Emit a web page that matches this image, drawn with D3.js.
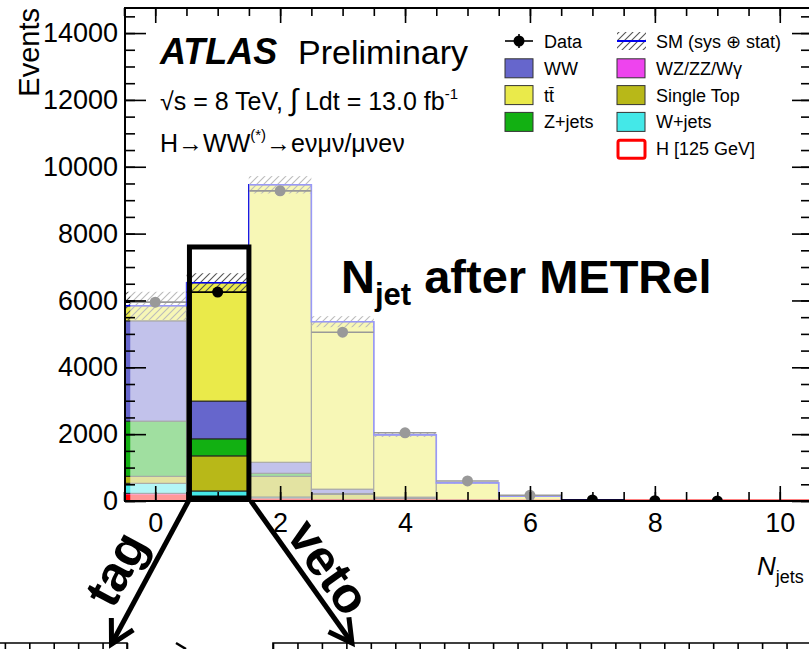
<!DOCTYPE html>
<html>
<head>
<meta charset="utf-8">
<script src="https://cdn.jsdelivr.net/npm/d3@7"></script>
<style>
  body { margin: 0; background: #fff; }
  svg { font-family: "Liberation Sans", Arial, Helvetica, sans-serif; }
  .axis text { font-size: 27px; fill: #000; }
  .axis line { stroke: #000; stroke-width: 1.6; }
  .axis path { display: none; }
</style>
</head>
<body>
<svg width="809" height="649"></svg>
<script>
// jet multiplicity bins and stacked backgrounds (events)
const bins   = [0, 1, 2, 3, 4, 5, 6, 7, 8, 9, 10];
const higgs  = [150, 60, 30, 10, 4, 1, 0.5, 0, 0, 0, 0];
const wzzz   = [80, 60, 30, 15, 5, 2, 1, 0, 0, 0, 0];
const wjets  = [300, 180, 60, 20, 8, 2, 1, 0.5, 0, 0, 0];
const stop   = [210, 1050, 620, 150, 50, 12, 3, 1, 0, 0, 0];
const zjets  = [1650, 510, 90, 30, 10, 3, 1, 0.5, 0, 0, 0];
const ww     = [3000, 1130, 330, 130, 40, 12, 4, 1, 0, 0, 0];
const ttbar  = [450, 3540, 8300, 5010, 1860, 510, 130, 25, 5, 1, 0];
const smUnc  = [420, 285, 260, 165, 60, 25, 10, 3, 1, 0.5, 0];
const data   = [5950, 6250, 9280, 5050, 2040, 600, 170, 30, 8, 2, 0];

const xMajor = [0, 2, 4, 6, 8, 10];
const yMajor = [0, 2000, 4000, 6000, 8000, 10000, 12000, 14000];

const keys = ["H", "WZ", "Wjets", "Stop", "Zjets", "WW", "ttbar"];
const colors = { H: "#ff0000", WZ: "#ee44ee", Wjets: "#44e8e8", Stop: "#b8b818",
                 Zjets: "#12b012", WW: "#6666cc", ttbar: "#eaea4a" };

const svg = d3.select("svg");

const x = d3.scaleLinear().domain([-0.5, 10.5]).range([124, 811]);
const y = d3.scaleLinear().domain([0, 14750]).range([501, 8]);

const rows = bins.map((b, i) => ({
  bin: b, H: higgs[i], WZ: wzzz[i], Wjets: wjets[i], Stop: stop[i],
  Zjets: zjets[i], WW: ww[i], ttbar: ttbar[i]
}));
const series = d3.stack().keys(keys)(rows);
const total = rows.map(r => keys.reduce((s, k) => s + r[k], 0));

// hatch pattern
const defs = svg.append("defs");
const pat = defs.append("pattern").attr("id", "hatch")
  .attr("patternUnits", "userSpaceOnUse").attr("width", 7).attr("height", 7);
pat.append("path").attr("d", "M-1,1 l2,-2 M0,7 l7,-7 M6,8 l2,-2")
  .attr("stroke", "#555").attr("stroke-width", 1.1);
defs.append("clipPath").attr("id", "plotclip").append("rect")
  .attr("x", 124).attr("y", 8).attr("width", 687).attr("height", 493);

const plot = svg.append("g").attr("clip-path", "url(#plotclip)");

// stacked histogram
plot.selectAll(".layer")
  .data(series)
  .join("g")
  .attr("fill", d => colors[d.key])
  .selectAll("rect")
  .data(d => d)
  .join("rect")
  .attr("x", d => x(d.data.bin - 0.5))
  .attr("width", x(1) - x(0))
  .attr("y", d => y(d[1]))
  .attr("height", d => Math.max(0, y(d[0]) - y(d[1])))
  .attr("stroke", d => (d[1] - d[0]) > 0 ? "#222" : "none")
  .attr("stroke-width", 1);

// signal line along the bottom
const edges = bins.map(b => b - 0.5).concat([10.5]);
const stepLine = d3.line().curve(d3.curveStepAfter).x(d => x(d[0])).y(d => y(d[1]));
plot.append("path")
  .attr("d", stepLine(edges.map((e, i) => [e, higgs[Math.min(i, bins.length - 1)]])))
  .attr("fill", "none").attr("stroke", colors.H).attr("stroke-width", 3);

// SM uncertainty band
plot.selectAll(".band")
  .data(bins)
  .join("rect")
  .attr("x", d => x(d - 0.5))
  .attr("width", x(1) - x(0))
  .attr("y", (d, i) => y(total[i] + smUnc[i]))
  .attr("height", (d, i) => y(total[i] - smUnc[i]) - y(total[i] + smUnc[i]))
  .attr("fill", "url(#hatch)");

// SM total line
plot.append("path")
  .attr("d", stepLine(edges.map((e, i) => [e, total[Math.min(i, bins.length - 1)]])))
  .attr("fill", "none").attr("stroke", "#0000ee").attr("stroke-width", 1.6);

// data points with bin-wide bars
const pts = bins.map((b, i) => ({ bin: b, v: data[i] })).filter(d => d.v > 0);
plot.selectAll(".xerr").data(pts).join("line")
  .attr("x1", d => x(d.bin - 0.5)).attr("x2", d => x(d.bin + 0.5))
  .attr("y1", d => y(d.v)).attr("y2", d => y(d.v))
  .attr("stroke", "#000").attr("stroke-width", 1.6);
plot.selectAll(".yerr").data(pts).join("line")
  .attr("x1", d => x(d.bin)).attr("x2", d => x(d.bin))
  .attr("y1", d => y(d.v + Math.sqrt(d.v))).attr("y2", d => y(d.v - Math.sqrt(d.v)))
  .attr("stroke", "#000").attr("stroke-width", 1.6);
plot.selectAll(".pt").data(pts).join("circle")
  .attr("cx", d => x(d.bin)).attr("cy", d => y(d.v)).attr("r", 5.5)
  .attr("fill", "#000");

// fade all bins except the 1-jet bin
const fade = [[-0.4, 0.5], [1.5, 6.5]];
plot.selectAll(".fade").data(fade).join("rect")
  .attr("x", d => x(d[0])).attr("width", d => x(d[1]) - x(d[0]))
  .attr("y", y(9950)).attr("height", y(0) - y(9950) + 3)
  .attr("fill", "#fff").attr("opacity", 0.6);

// axes, ticks inside on all four sides
const xMinor = d3.range(-0.5, 10.51, 0.5);
const yMinor = d3.range(0, 14751, 500);

svg.append("g").attr("class", "axis").attr("transform", "translate(0,501)")
  .call(d3.axisBottom(x).tickValues(xMinor).tickSizeInner(-9).tickSizeOuter(0).tickFormat(""));
svg.append("g").attr("class", "axis").attr("transform", "translate(0,501)")
  .call(d3.axisBottom(x).tickValues(xMajor).tickSizeInner(-15).tickSizeOuter(0).tickPadding(12));
svg.append("g").attr("class", "axis").attr("transform", "translate(0,8)")
  .call(d3.axisTop(x).tickValues(xMinor).tickSizeInner(-8).tickSizeOuter(0).tickFormat(""));
svg.append("g").attr("class", "axis").attr("transform", "translate(0,8)")
  .call(d3.axisTop(x).tickValues(xMajor).tickSizeInner(-15).tickSizeOuter(0).tickFormat(""));

svg.append("g").attr("class", "axis").attr("transform", "translate(125,0)")
  .call(d3.axisLeft(y).tickValues(yMinor).tickSizeInner(-10).tickSizeOuter(0).tickFormat(""));
svg.append("g").attr("class", "axis").attr("transform", "translate(125,0)")
  .call(d3.axisLeft(y).tickValues(yMajor).tickSizeInner(-21).tickSizeOuter(0).tickPadding(7).tickFormat(d3.format("d")));
svg.append("g").attr("class", "axis").attr("transform", "translate(811,0)")
  .call(d3.axisRight(y).tickValues(yMinor).tickSizeInner(-10).tickSizeOuter(0).tickFormat(""));
svg.append("g").attr("class", "axis").attr("transform", "translate(811,0)")
  .call(d3.axisRight(y).tickValues(yMajor).tickSizeInner(-19).tickSizeOuter(0).tickFormat(""));

svg.append("rect").attr("x", 125).attr("y", 8).attr("width", 686).attr("height", 493)
  .attr("fill", "none").attr("stroke", "#000").attr("stroke-width", 2);

// axis titles
svg.append("text").attr("transform", "translate(39,8) rotate(-90)")
  .attr("text-anchor", "end").attr("font-size", 29).text("Events");
const xt = svg.append("text").attr("x", 757).attr("y", 575).attr("font-size", 26);
xt.append("tspan").attr("font-style", "italic").text("N");
xt.append("tspan").attr("font-size", 18).attr("dy", 8).text("jets");

// ATLAS label
svg.append("text").attr("x", 160).attr("y", 64).attr("font-size", 36)
  .attr("font-weight", "bold").attr("font-style", "italic").text("ATLAS");
svg.append("text").attr("x", 298).attr("y", 64).attr("font-size", 34).text("Preliminary");
const l2 = svg.append("text").attr("x", 160).attr("y", 110).attr("font-size", 25);
l2.append("tspan").text("√s = 8 TeV, ");
l2.append("tspan").attr("font-size", 30).text("∫");
l2.append("tspan").text(" Ldt = 13.0 fb");
l2.append("tspan").attr("font-size", 15).attr("dy", -11).text("-1");
const l3 = svg.append("text").attr("x", 160).attr("y", 152).attr("font-size", 25);
l3.append("tspan").text("H→WW");
l3.append("tspan").attr("font-size", 15).attr("dy", -12).text("(*)");
l3.append("tspan").attr("dy", 12).text("→eνμν/μνeν");

// legend
const legLeft = [
  { label: "Data", type: "data" },
  { label: "WW", type: "box", key: "WW" },
  { label: "tt\u0304", type: "box", key: "ttbar" },
  { label: "Z+jets", type: "box", key: "Zjets" }
];
const legRight = [
  { label: "SM (sys \u2295 stat)", type: "sm" },
  { label: "WZ/ZZ/W\u03b3", type: "box", key: "WZ" },
  { label: "Single Top", type: "box", key: "Stop" },
  { label: "W+jets", type: "box", key: "Wjets" },
  { label: "H [125 GeV]", type: "sig" }
];
function legend(entries, x0) {
  entries.forEach((e, i) => {
    const cy = 41 + i * 26.8;
    const g = svg.append("g");
    if (e.type === "data") {
      g.append("line").attr("x1", x0).attr("x2", x0 + 28).attr("y1", cy).attr("y2", cy)
        .attr("stroke", "#000").attr("stroke-width", 1.6);
      g.append("line").attr("x1", x0 + 14).attr("x2", x0 + 14).attr("y1", cy - 7).attr("y2", cy + 7)
        .attr("stroke", "#000").attr("stroke-width", 1.6);
      g.append("circle").attr("cx", x0 + 14).attr("cy", cy).attr("r", 5.5);
    } else if (e.type === "sm") {
      g.append("rect").attr("x", x0).attr("y", cy - 9).attr("width", 29).attr("height", 18)
        .attr("fill", "url(#hatch)");
      g.append("line").attr("x1", x0).attr("x2", x0 + 29).attr("y1", cy).attr("y2", cy)
        .attr("stroke", "#0000ee").attr("stroke-width", 2);
    } else if (e.type === "sig") {
      g.append("rect").attr("x", x0 + 1).attr("y", cy - 8).attr("width", 27).attr("height", 18)
        .attr("fill", "#fff").attr("stroke", "#ff0000").attr("stroke-width", 3).attr("rx", 2);
    } else {
      g.append("rect").attr("x", x0).attr("y", cy - 9).attr("width", 28).attr("height", 19)
        .attr("fill", colors[e.key]).attr("stroke", "#333").attr("stroke-width", 1);
    }
    g.append("text").attr("x", x0 + 39).attr("y", cy + 7).attr("font-size", 18).text(e.label);
  });
}
legend(legLeft, 505);
legend(legRight, 617);

// annotation: highlighted 1-jet bin
svg.append("text").attr("x", 341).attr("y", 293).attr("font-size", 47).attr("font-weight", "bold")
  .call(t => {
    t.append("tspan").text("N");
    t.append("tspan").attr("font-size", 31).attr("dy", 12).text("jet");
    t.append("tspan").attr("dy", -12).text(" after METRel");
  });

svg.append("rect")
  .attr("x", x(0.5) + 3).attr("y", y(7600))
  .attr("width", x(1.5) - x(0.5) - 3).attr("height", y(0) - y(7600) - 3)
  .attr("fill", "none").attr("stroke", "#000").attr("stroke-width", 5);

const arrows = [
  { from: [0.5, 0], to: [-0.7, -4280], label: "tag", tx: 131, ty: 577 },
  { from: [1.5, 0], to: [3.15, -4250], label: "veto", tx: 315, ty: 577 }
];
arrows.forEach(a => {
  const x1 = x(a.from[0]) + 2, y1 = y(a.from[1]), x2 = x(a.to[0]), y2 = y(a.to[1]);
  const ang = Math.atan2(y2 - y1, x2 - x1);
  svg.append("line").attr("x1", x1).attr("y1", y1).attr("x2", x2).attr("y2", y2)
    .attr("stroke", "#000").attr("stroke-width", 5);
  const hl = 26, hw = 0.5;
  svg.append("path")
    .attr("d", `M${x2 - hl * Math.cos(ang - hw)},${y2 - hl * Math.sin(ang - hw)} L${x2},${y2} L${x2 - hl * Math.cos(ang + hw)},${y2 - hl * Math.sin(ang + hw)}`)
    .attr("fill", "none").attr("stroke", "#000").attr("stroke-width", 5)
    .attr("stroke-linejoin", "miter");
  let deg = ang * 180 / Math.PI;
  if (deg > 90) deg -= 180;
  svg.append("text").attr("transform", `translate(${a.tx},${a.ty}) rotate(${deg})`)
    .attr("text-anchor", "middle").attr("font-size", 50).attr("font-weight", "bold")
    .text(a.label);
});

// tops of the two lower panels
const xl = d3.scaleLinear().domain([-5.2, 0]).range([0, 127]);
const xr = d3.scaleLinear().domain([0, 22]).range([273, 811]);
svg.append("g").attr("class", "axis").attr("transform", "translate(0,643)")
  .call(d3.axisBottom(xl).ticks(6).tickSizeInner(8).tickSizeOuter(0).tickFormat(""));
svg.append("g").attr("class", "axis").attr("transform", "translate(0,643)")
  .call(d3.axisBottom(xr).ticks(22).tickSizeInner(8).tickSizeOuter(0).tickFormat(""));
svg.append("path").attr("d", "M0,643 H127 V649 M273,649 V643 H809")
  .attr("fill", "none").attr("stroke", "#000").attr("stroke-width", 1.6);
svg.append("line").attr("x1", 176).attr("y1", 643).attr("x2", 186).attr("y2", 649)
  .attr("stroke", "#000").attr("stroke-width", 2.5);
</script>
</body>
</html>
